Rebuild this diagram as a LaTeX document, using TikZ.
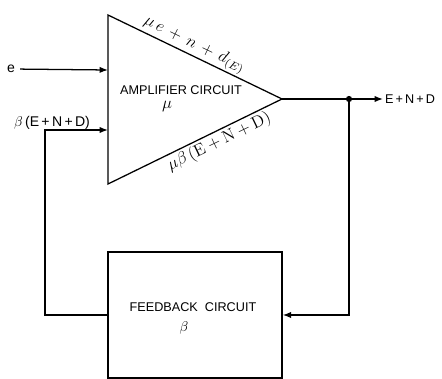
\documentclass[tikz,border=0pt]{standalone}
\usepackage{amsmath}
\usepackage{fontspec}
\setsansfont{Liberation Sans}
\usetikzlibrary{arrows.meta}

\begin{document}
\begin{tikzpicture}[x=0.025cm,y=-0.025cm,line width=0.9pt,
  >={Latex[length=6pt,width=4.5pt]},
  lbl/.style={font=\sffamily\fontsize{9}{10}\selectfont},
  edgelbl/.style={font=\fontsize{12}{13}\selectfont, inner sep=0.5pt}]
  \useasboundingbox (0,0) rectangle (442,379);
  % amplifier
  \coordinate (amptop) at (108,15);
  \coordinate (ampbot) at (108,184);
  \coordinate (ampout) at (282,99);
  \draw (amptop) -- (ampout) -- (ampbot) -- cycle;
  \node[lbl] (amptext) at (181,90) {AMPLIFIER CIRCUIT};
  \node[font=\large] (ampmu) at (167,107) {$\mu$};
  \node[edgelbl, rotate=-25.8, anchor=south] (toplbl) at (190,54) {$\mu\, e \,+\, n \,+\, d_{(E)}$};
  \node[edgelbl, rotate=25.8, anchor=north] (botlbl) at (215,133) {$\mu\beta\,(\mathrm{E} + \mathrm{N} + \mathrm{D})$};

  % feedback block
  \node[draw, minimum width=4.35cm, minimum height=3.15cm, inner sep=0pt] (fb) at (195,315) {};
  \node[lbl] (fbtext) at (193,307) {FEEDBACK\ \ CIRCUIT};
  \node (fbbeta) at (184,328) {$\beta$};

  % input
  \node[lbl, font=\sffamily\fontsize{10}{11}\selectfont] (ein) at (11,69) {e};
  \coordinate (ain) at (108,70);
  \draw[->] (ein) -- (ain);

  % output
  \coordinate (tap) at (349,99);
  \node[lbl, anchor=west, inner sep=1pt] (eout) at (383,99) {E\,+\,N\,+\,D};
  \draw (ampout) -- (tap);
  \draw[->] (tap) -- (eout.west);
  \fill (tap) circle (2.2pt);

  % feedback loop
  \draw[->] (tap) |- (fb.east);
  \coordinate (fbcorner) at (45,130);
  \coordinate (fbin) at (108,130);
  \draw[->] (fb.west) -| (fbcorner) -- (fbin);
  \node[lbl, font=\sffamily\fontsize{10}{11}\selectfont] (fblbl) at (52,123) {$\beta$\,(E\,+\,N\,+\,D)};
\end{tikzpicture}
\end{document}
